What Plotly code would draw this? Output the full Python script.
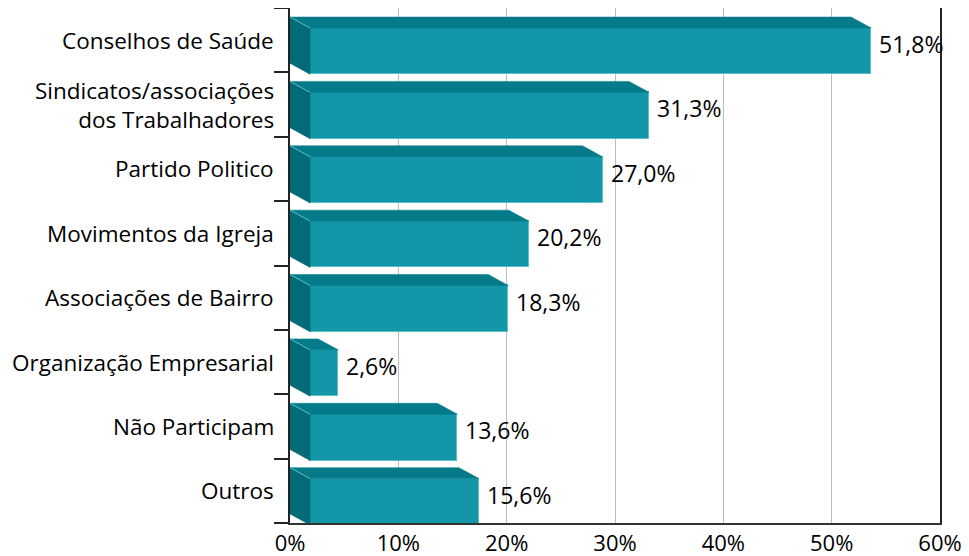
import plotly.graph_objects as go

categories = [
    "Conselhos de Saúde",
    "Sindicatos/associações<br>dos Trabalhadores",
    "Partido Politico",
    "Movimentos da Igreja",
    "Associações de Bairro",
    "Organização Empresarial",
    "Não Participam",
    "Outros",
]
values = [51.8, 31.3, 27.0, 20.2, 18.3, 2.6, 13.6, 15.6]
x_ticks = [0, 10, 20, 30, 40, 50, 60]
x_tick_labels = ["0%", "10%", "20%", "30%", "40%", "50%", "60%"]

FRONT = "#1296A8"
TOP = "#057A88"
SIDE = "#036B77"
EDGE = "#5CBDC9"
FONT = "Open Sans"

dx = 1.85   # depth along x (data units)
dy = 0.17   # depth along y (category units)
h = 0.72    # bar thickness

fig = go.Figure()

for i, v in enumerate(values):
    y0 = i - h / 2
    y1 = i + h / 2
    # side face
    fig.add_trace(go.Scatter(
        x=[0, dx, dx, 0, 0], y=[y0, y0 + dy, y1 + dy, y1, y0],
        fill="toself", fillcolor=SIDE, mode="lines",
        line=dict(color=SIDE, width=0.5), hoverinfo="skip", showlegend=False))
    # top face
    fig.add_trace(go.Scatter(
        x=[0, v, v + dx, dx, 0], y=[y0, y0, y0 + dy, y0 + dy, y0],
        fill="toself", fillcolor=TOP, mode="lines",
        line=dict(color=TOP, width=0.5), hoverinfo="skip", showlegend=False))
    # highlight edge at the left corner
    fig.add_trace(go.Scatter(
        x=[0, dx], y=[y0, y0 + dy], mode="lines",
        line=dict(color=EDGE, width=1), hoverinfo="skip", showlegend=False))

# front faces
fig.add_trace(go.Bar(
    y=[i + dy for i in range(len(values))], x=values, base=[dx] * len(values),
    orientation="h", width=h, marker=dict(color=FRONT, line=dict(color=EDGE, width=1)),
    showlegend=False, hoverinfo="skip"))

annotations = []
for i, (c, v) in enumerate(zip(categories, values)):
    annotations.append(dict(
        x=v + dx, y=i + 0.06, xref="x", yref="y", xanchor="left", yanchor="middle",
        xshift=6, showarrow=False,
        text=f"{v:.1f}".replace(".", ",") + "%",
        font=dict(family=FONT, size=23, color="#000")))
    annotations.append(dict(
        x=0, y=i + 0.0, xref="paper", yref="y", xanchor="right", yanchor="middle",
        xshift=-14, showarrow=False, align="right", text=c,
        font=dict(family=FONT, size=22.5, color="#000")))

# the page body adds an 8px offset, so the figure is sized to fit the window
fig.update_layout(
    width=961, height=548,
    margin=dict(l=282, r=29, t=0, b=33),
    paper_bgcolor="white", plot_bgcolor="white",
    bargap=0,
    annotations=annotations,
    xaxis=dict(
        range=[0, 60], tickvals=x_ticks, ticktext=x_tick_labels,
        showgrid=True, gridcolor="#BDBDBD", gridwidth=1,
        showline=True, linecolor="#333", linewidth=2, mirror=True,
        ticks="", zeroline=False, automargin=False,
        tickfont=dict(family=FONT, size=22, color="#000")),
    yaxis=dict(
        range=[7.5, -0.5], tickvals=[k - 0.5 for k in range(len(values) + 1)],
        ticktext=[""] * (len(values) + 1),
        showgrid=False, zeroline=False, automargin=False,
        showline=True, linecolor="#222", linewidth=2, mirror=True,
        ticks="outside", ticklen=14, tickcolor="#222", tickwidth=2),
)

fig.write_html("out.html")
